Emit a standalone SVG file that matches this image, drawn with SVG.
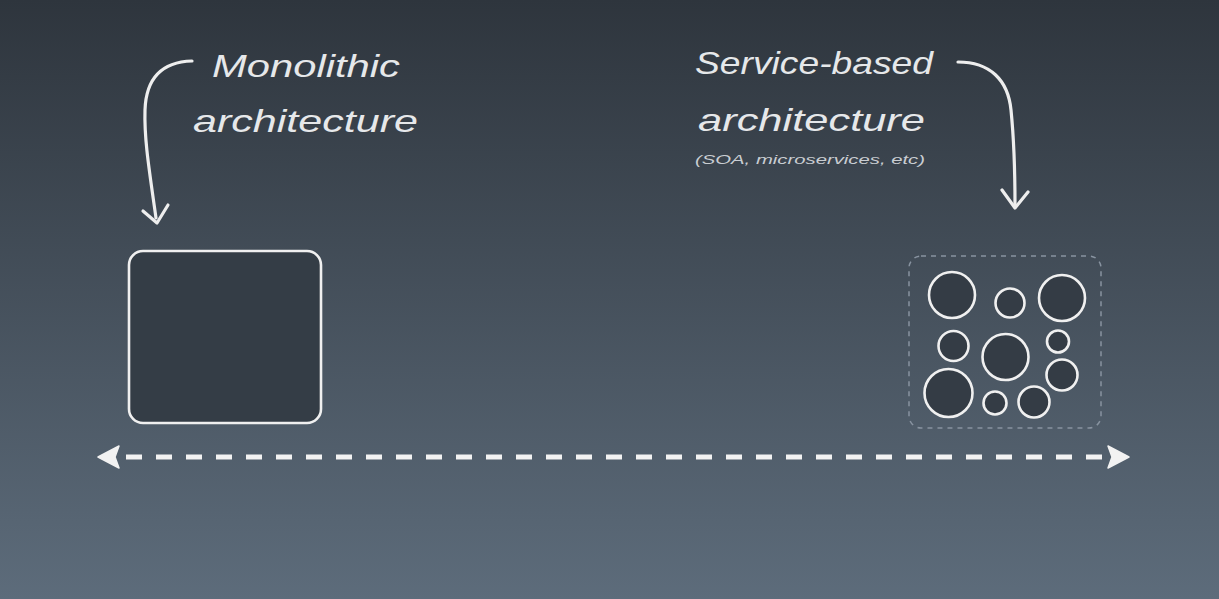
<svg xmlns="http://www.w3.org/2000/svg" width="1219" height="599" viewBox="0 0 1219 599">
<defs>
<linearGradient id="bg" x1="0" y1="0" x2="0" y2="1">
<stop offset="0" stop-color="#2e353d"/>
<stop offset="1" stop-color="#5d6c7b"/>
</linearGradient>
<style>
.lbl{font-family:"Liberation Sans","DejaVu Sans",sans-serif;font-style:italic;fill:#e6e8ea;}
.big{font-size:32px;}
.small{font-size:12.5px;fill:#c9cdd2;}
.chalk{fill:none;stroke:#eeeeee;stroke-width:3.2;stroke-linecap:round;stroke-linejoin:round;}
.svc{fill:#343c45;stroke:#f0f0f0;stroke-width:2.6;}
</style>
</defs>
<rect x="0" y="0" width="1219" height="599" fill="url(#bg)"/>

<g id="label-monolithic">
<text class="lbl big" x="212" y="77" textLength="188" lengthAdjust="spacingAndGlyphs">Monolithic</text>
<text class="lbl big" x="193" y="132" textLength="225" lengthAdjust="spacingAndGlyphs">architecture</text>
</g>

<g id="label-service">
<text class="lbl big" x="695" y="74" textLength="238" lengthAdjust="spacingAndGlyphs">Service-based</text>
<text class="lbl big" x="698" y="131" textLength="227" lengthAdjust="spacingAndGlyphs">architecture</text>
<text class="lbl small" x="695" y="164" textLength="230" lengthAdjust="spacingAndGlyphs">(SOA, microservices, etc)</text>
</g>

<g id="monolith">
<rect x="129" y="251" width="192" height="172" rx="14" fill="#343d46" stroke="#f0f0f0" stroke-width="2.6"/>
</g>

<g id="services">
<rect x="909" y="256" width="192" height="172" rx="12" fill="none" stroke="#8893a0" stroke-width="1.5" stroke-dasharray="5 5"/>
<circle class="svc" cx="952" cy="295" r="23"/>
<circle class="svc" cx="1010" cy="303" r="14.5"/>
<circle class="svc" cx="1062" cy="298" r="23"/>
<circle class="svc" cx="953.5" cy="346" r="15"/>
<circle class="svc" cx="1005.5" cy="357" r="23"/>
<circle class="svc" cx="1058" cy="341.5" r="11"/>
<circle class="svc" cx="948.5" cy="393" r="24"/>
<circle class="svc" cx="1062" cy="375" r="15.5"/>
<circle class="svc" cx="995" cy="403" r="11.5"/>
<circle class="svc" cx="1034" cy="402" r="15.5"/>
</g>

<g id="connectors">
<path class="chalk" d="M192,61 C160,62 146,80 145,110 C144,140 150,175 156,218"/>
<path class="chalk" d="M143,211 L157,223 L168,205"/>
<path class="chalk" d="M958,62 C990,62 1008,80 1011,110 C1014,140 1015,175 1015,205"/>
<path class="chalk" d="M1002,190 L1015,208 L1028,192"/>
<line x1="120" y1="457" x2="1108" y2="457" stroke="#f2f2f2" stroke-width="5" stroke-dasharray="16 14" stroke-dashoffset="-6"/>
<path d="M98,457 L119,446 L115,457 L119,468 Z" fill="#f2f2f2" stroke="#f2f2f2" stroke-width="1.5" stroke-linejoin="round"/>
<path d="M1129,457 L1108,446 L1112,457 L1108,468 Z" fill="#f2f2f2" stroke="#f2f2f2" stroke-width="1.5" stroke-linejoin="round"/>
</g>
</svg>
